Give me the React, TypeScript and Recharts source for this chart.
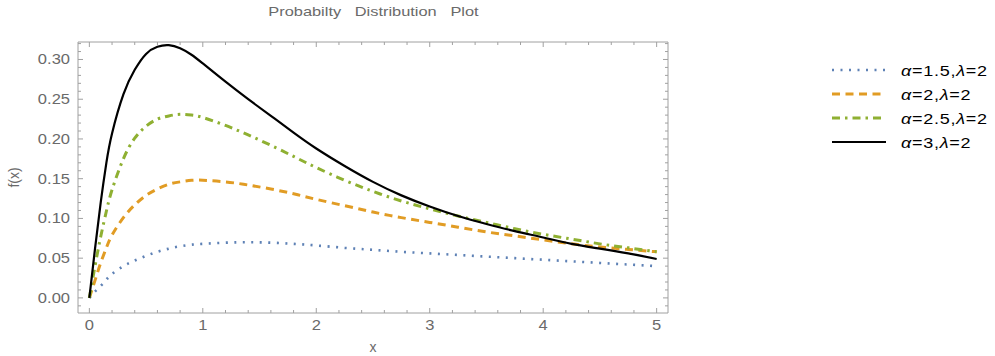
import React from "react";
import { LineChart, Line, XAxis, YAxis } from "recharts";

const xValues = [0, 0.05, 0.1, 0.15, 0.2, 0.3, 0.4, 0.5, 0.6, 0.7, 0.8, 0.9, 1.0, 1.2, 1.4, 1.6, 1.8, 2.0, 2.25, 2.5, 2.75, 3.0, 3.25, 3.5, 3.75, 4.0, 4.25, 4.5, 4.75, 5.0];
const alpha15 = [0, 0.008, 0.015, 0.023, 0.03, 0.04, 0.047, 0.053, 0.058, 0.062, 0.065, 0.067, 0.068, 0.0695, 0.07, 0.0695, 0.068, 0.066, 0.063, 0.0605, 0.058, 0.056, 0.054, 0.052, 0.05, 0.048, 0.046, 0.044, 0.042, 0.04];
const alpha2 = [0, 0.022, 0.044, 0.063, 0.079, 0.101, 0.117, 0.129, 0.137, 0.143, 0.146, 0.148, 0.148, 0.146, 0.142, 0.137, 0.131, 0.124, 0.116, 0.108, 0.101, 0.095, 0.089, 0.083, 0.078, 0.073, 0.068, 0.064, 0.061, 0.058];
const alpha25 = [0, 0.04, 0.077, 0.109, 0.136, 0.175, 0.201, 0.216, 0.225, 0.229, 0.231, 0.23, 0.227, 0.217, 0.205, 0.192, 0.178, 0.164, 0.148, 0.134, 0.122, 0.112, 0.103, 0.095, 0.087, 0.08, 0.074, 0.068, 0.063, 0.058];
const alpha3 = [0, 0.062, 0.12, 0.17, 0.207, 0.256, 0.287, 0.307, 0.316, 0.318, 0.314, 0.306, 0.295, 0.272, 0.25, 0.229, 0.208, 0.188, 0.166, 0.146, 0.129, 0.115, 0.103, 0.093, 0.084, 0.076, 0.068, 0.062, 0.056, 0.049];

const seriesNames = ["α=1.5,λ=2", "α=2,λ=2", "α=2.5,λ=2", "α=3,λ=2"];
const seriesKeys = ["a15", "a2", "a25", "a3"];

const xMajorTicks = [0, 1, 2, 3, 4, 5];
const xMinorTicks = [0.2, 0.4, 0.6, 0.8, 1.2, 1.4, 1.6, 1.8, 2.2, 2.4, 2.6, 2.8, 3.2, 3.4, 3.6, 3.8, 4.2, 4.4, 4.6, 4.8];
const yMajorTicks = [0, 0.05, 0.1, 0.15, 0.2, 0.25, 0.3];
const yMinorTicks = [-0.01, 0.01, 0.02, 0.03, 0.04, 0.06, 0.07, 0.08, 0.09, 0.11, 0.12, 0.13, 0.14, 0.16, 0.17, 0.18, 0.19, 0.21, 0.22, 0.23, 0.24, 0.26, 0.27, 0.28, 0.29, 0.31, 0.32];

const data = xValues.map((x, i) => ({
  x,
  a15: alpha15[i],
  a2: alpha2[i],
  a25: alpha25[i],
  a3: alpha3[i],
}));

const colors = ["#5E81B5", "#E19C24", "#8FB032", "#000000"];
const dashes = ["2 6.5", "8 5.5", "8 5 2.5 5", undefined];
const widths = [2.6, 3, 3, 2.2];

const FRAME = "#a0a0a0";
const LABEL = "#6a6a6a";
const FONT = "'Liberation Sans', Arial, sans-serif";
const X_DOMAIN = [-0.1, 5.1];
const Y_DOMAIN = [-0.019, 0.322];
const STRETCH = 1.18;

const isMajor = (v: number, majors: number[]) => majors.some((m) => Math.abs(m - v) < 1e-9);

function BottomTick(props: any) {
  const { x, y, payload } = props;
  const major = isMajor(payload.value, xMajorTicks);
  return (
    <g>
      <line x1={x} x2={x} y1={y} y2={y - (major ? 5 : 3)} stroke={FRAME} strokeWidth={1} />
      {major && (
        <text
          transform={`translate(${x},${y + 17}) scale(${STRETCH},1)`}
          textAnchor="middle"
          fill={LABEL}
          fontSize={14}
          fontFamily={FONT}
        >
          {payload.value}
        </text>
      )}
    </g>
  );
}

function TopTick(props: any) {
  const { x, y, payload } = props;
  const major = isMajor(payload.value, xMajorTicks);
  return <line x1={x} x2={x} y1={y} y2={y + (major ? 5 : 3)} stroke={FRAME} strokeWidth={1} />;
}

function LeftTick(props: any) {
  const { x, y, payload } = props;
  const major = isMajor(payload.value, yMajorTicks);
  return (
    <g>
      <line x1={x} x2={x + (major ? 5 : 3)} y1={y} y2={y} stroke={FRAME} strokeWidth={1} />
      {major && (
        <text
          transform={`translate(${x - 8},${y + 5}) scale(${STRETCH},1)`}
          textAnchor="end"
          fill={LABEL}
          fontSize={14}
          fontFamily={FONT}
        >
          {payload.value.toFixed(2)}
        </text>
      )}
    </g>
  );
}

function RightTick(props: any) {
  const { x, y, payload } = props;
  const major = isMajor(payload.value, yMajorTicks);
  return <line x1={x} x2={x - (major ? 5 : 3)} y1={y} y2={y} stroke={FRAME} strokeWidth={1} />;
}

function LegendLabel({ text }: { text: string }) {
  return (
    <span
      style={{
        display: "inline-block",
        transform: "scaleX(1.2)",
        transformOrigin: "left center",
        letterSpacing: 0.6,
        whiteSpace: "pre",
      }}
    >
      {Array.from(text).map((ch, j) =>
        ch === "α" || ch === "λ" ? (
          <i key={j}>{ch}</i>
        ) : (
          <React.Fragment key={j}>{ch}</React.Fragment>
        )
      )}
    </span>
  );
}

function LegendBox() {
  return (
    <div
      style={{
        position: "absolute",
        left: 831,
        top: 58,
        fontFamily: FONT,
        fontSize: 15,
        color: "#000",
      }}
    >
      {seriesNames.map((name, i) => (
        <div key={name} style={{ display: "flex", alignItems: "center", height: 24 }}>
          <svg width={56} height={10} style={{ marginRight: 14 }}>
            <line
              x1={1}
              x2={55}
              y1={5}
              y2={5}
              stroke={colors[i]}
              strokeWidth={widths[i]}
              strokeDasharray={dashes[i]}
            />
          </svg>
          <LegendLabel text={name} />
        </div>
      ))}
    </div>
  );
}

export default function App() {
  const xTicks = [...xMajorTicks, ...xMinorTicks].sort((a, b) => a - b);
  const yTicks = [...yMajorTicks, ...yMinorTicks].sort((a, b) => a - b);
  return (
    <div style={{ position: "absolute", left: 0, top: 0, width: 995, height: 356, background: "#fff" }}>
      <div
        style={{
          position: "absolute",
          left: 0,
          width: 746,
          top: 4,
          textAlign: "center",
          fontFamily: FONT,
          fontSize: 13,
          color: LABEL,
          whiteSpace: "pre",
        }}
      >
        <span style={{ display: "inline-block", transform: "scaleX(1.26)" }}>
          {"Probabilty   Distribution   Plot"}
        </span>
      </div>
      <LineChart width={995} height={356} data={data} margin={{ top: 41, right: 326, bottom: 0, left: 0 }}>
        <XAxis
          dataKey="x"
          type="number"
          domain={X_DOMAIN}
          ticks={xTicks}
          interval={0}
          height={43}
          tickSize={0}
          tickMargin={0}
          tick={<BottomTick />}
          stroke={FRAME}
          label={{ value: "x", position: "insideBottom", offset: 4, fill: LABEL, fontSize: 14, fontFamily: FONT }}
        />
        <XAxis
          xAxisId="top"
          orientation="top"
          dataKey="x"
          type="number"
          domain={X_DOMAIN}
          ticks={xTicks}
          interval={0}
          height={1}
          tickSize={0}
          tickMargin={0}
          tick={<TopTick />}
          stroke={FRAME}
        />
        <YAxis
          type="number"
          domain={Y_DOMAIN}
          ticks={yTicks}
          interval={0}
          width={78}
          tickSize={0}
          tickMargin={0}
          tick={<LeftTick />}
          stroke={FRAME}
          label={{
            value: "f(x)",
            angle: -90,
            position: "insideLeft",
            offset: 14,
            fill: LABEL,
            fontSize: 14,
            fontFamily: FONT,
            style: { textAnchor: "middle" },
          }}
        />
        <YAxis
          yAxisId="right"
          orientation="right"
          type="number"
          domain={Y_DOMAIN}
          ticks={yTicks}
          interval={0}
          width={1}
          tickSize={0}
          tickMargin={0}
          tick={<RightTick />}
          stroke={FRAME}
        />
        {seriesKeys.map((k, i) => (
          <Line
            key={k}
            dataKey={k}
            name={seriesNames[i]}
            type="natural"
            stroke={colors[i]}
            strokeWidth={widths[i]}
            strokeDasharray={dashes[i]}
            dot={false}
            activeDot={false}
            isAnimationActive={false}
          />
        ))}
        <Line
          dataKey="a3"
          xAxisId="top"
          yAxisId="right"
          stroke="none"
          dot={false}
          activeDot={false}
          legendType="none"
          isAnimationActive={false}
        />
      </LineChart>
      <LegendBox />
    </div>
  );
}
